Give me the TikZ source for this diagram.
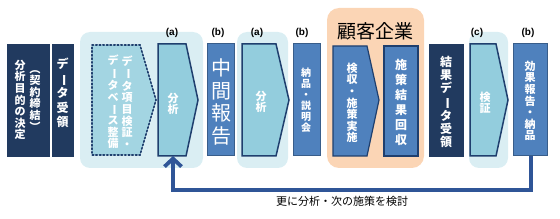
\documentclass[tikz,border=0pt]{standalone}
\usepackage{fontspec}
\usepackage{graphicx}
\usetikzlibrary{arrows.meta}
\newfontfamily\jp{Noto Sans CJK JP}
\newfontfamily\lab{Liberation Sans}
\definecolor{navy}{HTML}{213A5F}
\definecolor{midblue}{HTML}{4F81BD}
\definecolor{midborder}{HTML}{385D8A}
\definecolor{darkborder}{HTML}{1F3F6E}
\definecolor{lightbg}{HTML}{DAEEF3}
\definecolor{arrfill}{HTML}{93CDDD}
\definecolor{pentfill}{HTML}{A3D5E2}
\definecolor{orangebg}{HTML}{FBD5B5}
\definecolor{fbline}{HTML}{2F5597}
\newcommand\vchoon{\rotatebox[origin=c]{-90}{ー}}
\newcommand\vlp{\rotatebox[origin=c]{-90}{（}}
\newcommand\vrp{\rotatebox[origin=c]{-90}{）}}
\tikzset{
  navybox/.style={draw=navy, fill=navy, line width=0.8pt},
  midbox/.style={draw=midborder, fill=midblue, line width=1pt},
  kbox/.style={draw=darkborder, fill=midblue, line width=1.2pt},
  arrbox/.style={draw=darkborder, fill=arrfill, line width=1.5pt, line join=miter},
  bgbox/.style={fill=lightbg, rounded corners=10pt},
  vtext/.style={text=white, align=center, inner sep=0pt, font=\jp\bfseries\fontsize{11}{11.6}\selectfont},
  toplabel/.style={text=black, inner sep=0pt, font=\lab\bfseries\fontsize{10}{12}\selectfont},
}
\begin{document}
\begin{tikzpicture}[x=1pt,y=-1pt]
\useasboundingbox (0,0) rectangle (560,219);
% backgrounds
\fill[bgbox] (80,32) rectangle (203,168);
\fill[bgbox] (237,32) rectangle (288,168);
\fill[bgbox] (469,32) rectangle (508,168);
\fill[orangebg, rounded corners=12pt] (327,8) rectangle (424,168);
% box 1
\fill[navybox] (7,44) rectangle (49,156);
\node[vtext] (t1a) at (20,100) {分\\析\\目\\的\\の\\決\\定};
\node[vtext] (t1b) at (35,98) {\vlp\\契\\約\\締\\結\\\vrp};
% box 2
\fill[navybox] (52,44) rectangle (73,156);
\node[vtext, font=\jp\bfseries\fontsize{12}{14.5}\selectfont] (t2) at (62.5,93) {デ\\\vchoon\\タ\\受\\領};
% dotted pentagon
\draw[fill=pentfill, draw=darkborder, line width=1.6pt, dotted, line cap=round]
  (92,45) -- (140,45) -- (156,100) -- (140,155) -- (92,155) -- cycle;
\node[vtext] (t3a) at (127,102) {デ\\\vchoon\\タ\\項\\目\\検\\証\\・};
\node[vtext] (t3b) at (113,102) {デ\\\vchoon\\タ\\ベ\\\vchoon\\ス\\整\\備};
% arrow a1
\draw[arrbox] (158,44) -- (186,44) -- (198,100) -- (186,156) -- (158,156) -- cycle;
\coordinate (a1b) at (173,156);
\node[vtext] (t4) at (173,104) {分\\析};
\node[toplabel] (la1) at (172,33) {(a)};
% box b1
\fill[midbox] (207,44) rectangle (234,156);
\node[vtext, font=\jp\fontsize{20}{22.5}\selectfont] (t5) at (221,102) {中\\間\\報\\告};
\node[toplabel] (lb1) at (218,33) {(b)};
% arrow a2
\draw[arrbox] (242,44) -- (276,44) -- (289,100) -- (276,156) -- (242,156) -- cycle;
\node[vtext] (t6) at (261,102) {分\\析};
\node[toplabel] (la2) at (257,33) {(a)};
% box b2
\fill[midbox] (293,44) rectangle (320,156);
\node[vtext, font=\jp\bfseries\fontsize{10}{11}\selectfont] (t7) at (306,100) {納\\品\\・\\説\\明\\会};
\node[toplabel] (lb2) at (302,33) {(b)};
% customer
\node[text=black, inner sep=0pt, font=\jp\fontsize{19}{22}\selectfont] (kk) at (375,31) {顧客企業};
\draw[kbox] (333,46) -- (367,46) -- (379,100) -- (367,156) -- (333,156) -- cycle;
\node[vtext] (t8) at (352,103) {検\\収\\・\\施\\策\\実\\施};
\draw[kbox] (384,46) rectangle (418,156);
\node[vtext, font=\jp\bfseries\fontsize{12}{15}\selectfont] (t9) at (401,102) {施\\策\\結\\果\\回\\収};
% result data
\fill[navybox] (429,44) rectangle (463,156);
\node[vtext, font=\jp\bfseries\fontsize{12}{13}\selectfont] (t10) at (446,102) {結\\果\\デ\\\vchoon\\タ\\受\\領};
% arrow c
\draw[arrbox] (470,44) -- (496,44) -- (508,100) -- (496,156) -- (470,156) -- cycle;
\node[vtext] (t11) at (485,103) {検\\証};
\node[toplabel] (lc) at (477,33) {(c)};
% box b3
\fill[midbox] (513,44) rectangle (547,156);
\coordinate (b3b) at (531,156);
\node[vtext] (t12) at (530,101) {効\\果\\報\\告\\・\\納\\品};
\node[toplabel] (lb3) at (528,33) {(b)};
% feedback
\draw[fbline, line width=3.8pt, -{Straight Barb[length=8pt,width=17pt]}]
  (b3b) -- (531,190) -- (173,190) -- (a1b);
\node[text=black, inner sep=0pt, font=\jp\fontsize{11}{13}\selectfont] (fb) at (342,201) {更に分析・次の施策を検討};
\end{tikzpicture}
\end{document}
